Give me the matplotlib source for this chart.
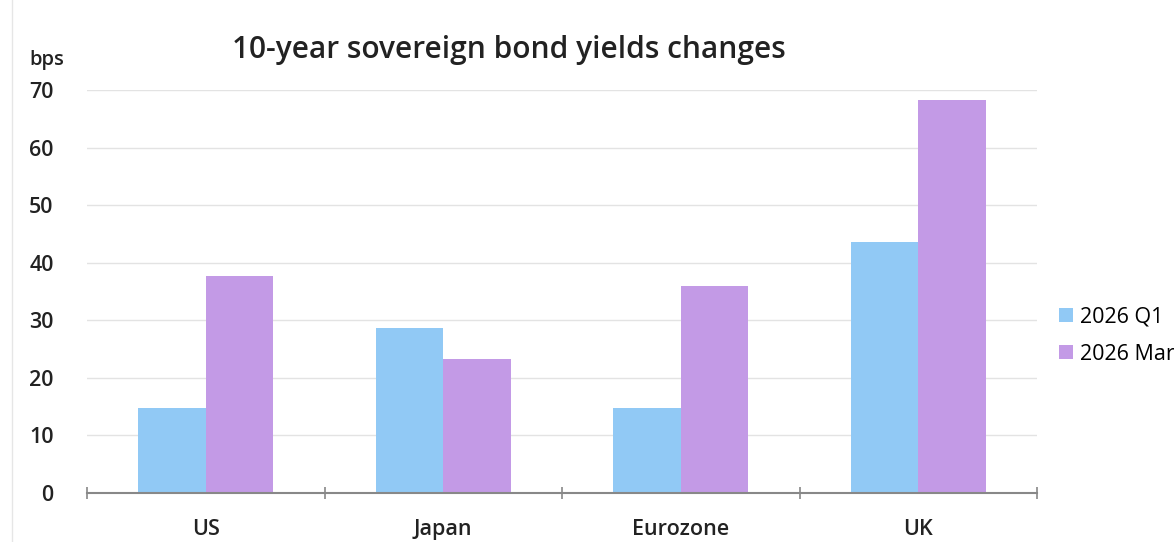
import matplotlib
matplotlib.use("Agg")
import matplotlib.pyplot as plt
import numpy as np

regions = ["US", "Japan", "Eurozone", "UK"]
q1 = [14.8, 28.7, 14.8, 43.6]
mar = [37.7, 23.3, 36.0, 68.3]
series_names = ["2026 Q1", "2026 Mar"]

plt.rcParams['font.family'] = ['Open Sans', 'DejaVu Sans']

W, H = 1174, 542
fig = plt.figure(figsize=(W / 100, H / 100), dpi=100)
ax = fig.add_axes([87 / W, 1 - 493 / H, (1037 - 87) / W, (493 - 90) / H])

x = np.arange(len(regions))
bw = 0.285
b1 = ax.bar(x - bw / 2, q1, bw, color="#91c9f5", label=series_names[0], zorder=3)
b2 = ax.bar(x + bw / 2, mar, bw, color="#c39ae6", label=series_names[1], zorder=3)

ax.set_xlim(-0.5, len(regions) - 0.5)
ax.set_ylim(0, 70)
ax.set_yticks(range(0, 71, 10))
ax.yaxis.grid(True, color="#e3e3e3", linewidth=1, zorder=0)
ax.tick_params(axis="y", length=0, pad=24, labelsize=15.5, labelcolor="#222222")
for lab in ax.get_yticklabels():
    lab.set_fontweight("semibold")

# category labels, tick marks at boundaries
ax.set_xticks(x)
ax.set_xticklabels(regions, fontsize=15.5, fontweight="semibold", color="#222222")
ax.tick_params(axis="x", which="major", length=0, pad=19)
ax.set_xticks(np.arange(-0.5, len(regions), 1), minor=True)
ax.tick_params(axis="x", which="minor", length=8, width=1.2, color="#888888", direction="inout")

for s in ["top", "right", "left"]:
    ax.spines[s].set_visible(False)
ax.spines["bottom"].set_color("#888888")
ax.spines["bottom"].set_linewidth(1.5)
ax.spines["bottom"].set_zorder(4)

fig.text(29 / W, 1 - 60 / H, "bps", fontsize=14.5, fontweight="semibold", color="#222222", va="center")
fig.text(509 / W, 1 - 50 / H, "10-year sovereign bond yields changes", fontsize=21.5,
         fontweight="semibold", color="#222222", ha="center", va="center")

# faint left border
fig.add_artist(plt.Line2D([12 / W, 12 / W], [0, 1], color="#e6e6e6", linewidth=1))

fig.legend(handles=[b1, b2], loc="upper left", bbox_to_anchor=(1050 / W, 1 - 298 / H),
           frameon=False, fontsize=15.5, handlelength=0.65, handleheight=0.65,
           handletextpad=0.35, labelspacing=0.75, borderaxespad=0)

fig.savefig("out.png", dpi=100)
